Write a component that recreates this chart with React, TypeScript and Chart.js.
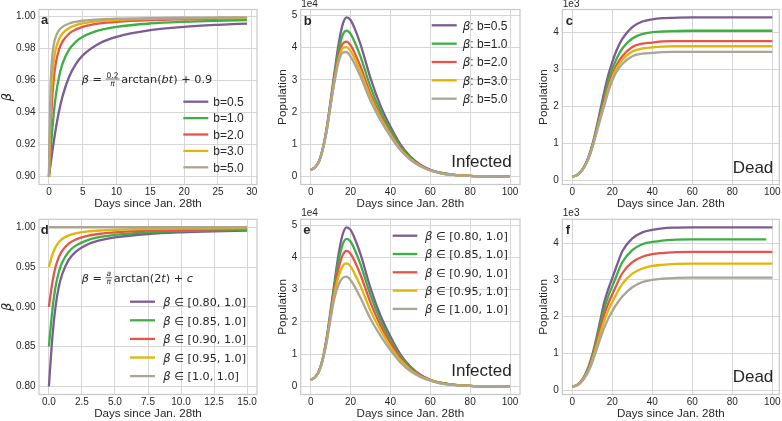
import React, { useEffect, useRef } from "react";
import { Chart, registerables } from "chart.js";

Chart.register(...registerables);

const SANS = '"Liberation Sans", Arial, Helvetica, sans-serif';
const MATH = '"DejaVu Sans", sans-serif';
const TEXT = "#262626";
const GRID = "#d6d6d6";
const SPINE = "#c8c8c8";
const COLORS = ["#7b5c93", "#3cb043", "#e8534a", "#e2b507", "#aaa597"];

// ---------------- Panel a : beta(t) for several b ----------------
const tA = [0, 0.1, 0.2, 0.3, 0.5, 0.75, 1, 1.5, 2, 3, 4, 5, 7.5, 10, 15, 20, 25, 29.3];
const labelsA = ["b=0.5", "b=1.0", "b=2.0", "b=3.0", "b=5.0"];
const betaA_b05 = [0.9, 0.90318, 0.90635, 0.90948, 0.9156, 0.92284, 0.92952, 0.94097, 0.95, 0.96257, 0.97048, 0.97578, 0.98341, 0.98743, 0.99156, 0.99366, 0.99492, 0.99569];
const betaA_b10 = [0.9, 0.90635, 0.91257, 0.91856, 0.92952, 0.94097, 0.95, 0.96257, 0.97048, 0.97952, 0.9844, 0.98743, 0.99156, 0.99366, 0.99576, 0.99682, 0.99746, 0.99784];
const betaA_b20 = [0.9, 0.91257, 0.92422, 0.9344, 0.95, 0.96257, 0.97048, 0.97952, 0.9844, 0.98949, 0.99208, 0.99366, 0.99576, 0.99682, 0.99788, 0.99841, 0.99873, 0.99892];
const betaA_b30 = [0.9, 0.91856, 0.9344, 0.94665, 0.96257, 0.97338, 0.97952, 0.98608, 0.98949, 0.99296, 0.99471, 0.99576, 0.99717, 0.99788, 0.99859, 0.99894, 0.99915, 0.99928];
const betaA_b50 = [0.9, 0.92952, 0.95, 0.96257, 0.97578, 0.98341, 0.98743, 0.99156, 0.99366, 0.99576, 0.99682, 0.99746, 0.9983, 0.99873, 0.99915, 0.99936, 0.99949, 0.99957];
const xTicksA = [0, 5, 10, 15, 20, 25, 30];
const yTicksA = [0.9, 0.92, 0.94, 0.96, 0.98, 1.0];

// ---------------- Panel b : infected (x1e4) ----------------
const tInf = [0, 2, 4, 6, 8, 10, 12, 14, 16, 18, 20, 22, 25, 30, 35, 40, 45, 50, 55, 60, 65, 70, 80, 90, 100];
const labelsB = ["β: b=0.5", "β: b=1.0", "β: b=2.0", "β: b=3.0", "β: b=5.0"];
const infB_b05 = [0.21, 0.28, 0.45, 0.85, 1.5, 2.35, 3.25, 4.1, 4.7, 4.93, 4.85, 4.6, 4.1, 3.05, 2.2, 1.55, 1.0, 0.62, 0.37, 0.21, 0.12, 0.07, 0.02, 0.005, 0.001];
const infB_b10 = [0.21, 0.28, 0.45, 0.84, 1.46, 2.29, 3.14, 3.89, 4.38, 4.52, 4.42, 4.18, 3.72, 2.78, 2.03, 1.44, 0.93, 0.58, 0.35, 0.2, 0.12, 0.07, 0.02, 0.005, 0.001];
const infB_b20 = [0.21, 0.28, 0.44, 0.83, 1.43, 2.25, 3.04, 3.72, 4.11, 4.18, 4.07, 3.84, 3.41, 2.56, 1.89, 1.34, 0.88, 0.55, 0.34, 0.2, 0.11, 0.06, 0.02, 0.005, 0.001];
const infB_b30 = [0.21, 0.28, 0.44, 0.83, 1.42, 2.22, 3.0, 3.63, 3.98, 4.01, 3.89, 3.67, 3.25, 2.46, 1.82, 1.3, 0.85, 0.54, 0.33, 0.19, 0.11, 0.06, 0.02, 0.005, 0.001];
const infB_b50 = [0.21, 0.28, 0.44, 0.82, 1.4, 2.2, 2.95, 3.55, 3.84, 3.86, 3.72, 3.5, 3.1, 2.35, 1.75, 1.25, 0.82, 0.52, 0.32, 0.19, 0.11, 0.06, 0.02, 0.005, 0.001];
const xTicksDays = [0, 20, 40, 60, 80, 100];
const yTicksInf = [0, 1, 2, 3, 4, 5];

// ---------------- Panel c : dead (x1e3) ----------------
const tDead = [0, 2, 4, 6, 8, 10, 12, 14, 16, 18, 20, 22, 25, 30, 35, 40, 45, 50, 60, 70, 80, 90, 100];
const deadC_b05 = [0.1, 0.13, 0.22, 0.38, 0.62, 0.96, 1.4, 1.9, 2.4, 2.85, 3.2, 3.5, 3.83, 4.15, 4.3, 4.36, 4.39, 4.4, 4.41, 4.41, 4.41, 4.41, 4.41];
const deadC_b10 = [0.1, 0.13, 0.22, 0.37, 0.6, 0.93, 1.35, 1.8, 2.25, 2.68, 3.01, 3.28, 3.57, 3.84, 3.96, 4.01, 4.03, 4.04, 4.05, 4.05, 4.05, 4.05, 4.05];
const deadC_b20 = [0.1, 0.13, 0.21, 0.37, 0.59, 0.91, 1.3, 1.73, 2.14, 2.54, 2.86, 3.11, 3.36, 3.61, 3.7, 3.73, 3.76, 3.77, 3.77, 3.77, 3.77, 3.77, 3.77];
const deadC_b30 = [0.1, 0.13, 0.21, 0.36, 0.58, 0.89, 1.28, 1.69, 2.08, 2.47, 2.78, 3.02, 3.26, 3.49, 3.57, 3.6, 3.62, 3.63, 3.63, 3.63, 3.63, 3.63, 3.63];
const deadC_b50 = [0.1, 0.13, 0.21, 0.36, 0.57, 0.88, 1.26, 1.65, 2.02, 2.4, 2.7, 2.93, 3.15, 3.36, 3.43, 3.45, 3.47, 3.48, 3.48, 3.48, 3.48, 3.48, 3.48];
const yTicksDead = [0, 1, 2, 3, 4];

// ---------------- Panel d : beta(t) for several ranges ----------------
const tD = [0, 0.05, 0.1, 0.2, 0.3, 0.5, 0.75, 1, 1.5, 2, 3, 4, 5, 7.5, 10, 12.5, 15];
const labelsD = ["β ∈ [0.80, 1.0]", "β ∈ [0.85, 1.0]", "β ∈ [0.90, 1.0]", "β ∈ [0.95, 1.0]", "β ∈ [1.0, 1.0]"];
const betaD_080 = [0.8, 0.81269, 0.82513, 0.84845, 0.86881, 0.9, 0.92513, 0.94097, 0.95903, 0.96881, 0.97897, 0.98417, 0.98731, 0.99152, 0.99364, 0.99491, 0.99576];
const betaD_085 = [0.85, 0.85952, 0.86885, 0.88634, 0.90161, 0.925, 0.94385, 0.95572, 0.96928, 0.97661, 0.98423, 0.98812, 0.99048, 0.99364, 0.99523, 0.99618, 0.99682];
const betaD_090 = [0.9, 0.90635, 0.91257, 0.92422, 0.93441, 0.95, 0.96257, 0.97048, 0.97952, 0.9844, 0.98949, 0.99208, 0.99366, 0.99576, 0.99682, 0.99746, 0.99788];
const betaD_095 = [0.95, 0.95317, 0.95628, 0.96211, 0.9672, 0.975, 0.98128, 0.98524, 0.98976, 0.9922, 0.99474, 0.99604, 0.99683, 0.99788, 0.99841, 0.99873, 0.99894];
const betaD_100 = [1, 1, 1, 1, 1, 1, 1, 1, 1, 1, 1, 1, 1, 1, 1, 1, 1];
const xTicksD = [0, 2.5, 5, 7.5, 10, 12.5, 15];
const yTicksD = [0.8, 0.85, 0.9, 0.95, 1.0];

// ---------------- Panel e : infected (x1e4) ----------------
const labelsE = ["β ∈ [0.80, 1.0]", "β ∈ [0.85, 1.0]", "β ∈ [0.90, 1.0]", "β ∈ [0.95, 1.0]", "β ∈ [1.00, 1.0]"];
const infE_080 = [0.21, 0.28, 0.45, 0.85, 1.5, 2.35, 3.25, 4.1, 4.7, 4.93, 4.85, 4.6, 4.1, 3.05, 2.2, 1.55, 1.0, 0.62, 0.37, 0.21, 0.12, 0.07, 0.02, 0.005, 0.001];
const infE_085 = [0.21, 0.28, 0.45, 0.84, 1.47, 2.29, 3.13, 3.88, 4.39, 4.57, 4.49, 4.25, 3.78, 2.83, 2.05, 1.45, 0.94, 0.59, 0.35, 0.2, 0.12, 0.07, 0.02, 0.005, 0.001];
const infE_090 = [0.21, 0.28, 0.45, 0.83, 1.43, 2.23, 3.01, 3.65, 4.06, 4.2, 4.11, 3.89, 3.46, 2.6, 1.9, 1.35, 0.88, 0.55, 0.34, 0.2, 0.11, 0.07, 0.02, 0.005, 0.001];
const infE_095 = [0.21, 0.28, 0.44, 0.82, 1.4, 2.17, 2.88, 3.41, 3.72, 3.81, 3.72, 3.5, 3.11, 2.35, 1.75, 1.24, 0.82, 0.52, 0.32, 0.19, 0.11, 0.06, 0.02, 0.005, 0.001];
const infE_100 = [0.21, 0.28, 0.44, 0.81, 1.36, 2.1, 2.75, 3.15, 3.36, 3.4, 3.3, 3.1, 2.75, 2.1, 1.58, 1.13, 0.75, 0.48, 0.3, 0.18, 0.1, 0.06, 0.02, 0.005, 0.001];

// ---------------- Panel f : dead (x1e3) ----------------
const tDeadShort = [0, 2, 4, 6, 8, 10, 12, 14, 16, 18, 20, 22, 25, 30, 35, 40, 45, 50, 60, 70, 80, 90, 97];
const deadF_080 = [0.1, 0.13, 0.22, 0.38, 0.62, 0.96, 1.4, 1.9, 2.4, 2.75, 3.05, 3.35, 3.78, 4.13, 4.29, 4.36, 4.4, 4.42, 4.43, 4.43, 4.43, 4.43, 4.43];
const deadF_085 = [0.1, 0.13, 0.21, 0.37, 0.59, 0.91, 1.32, 1.78, 2.23, 2.56, 2.83, 3.1, 3.48, 3.81, 3.97, 4.03, 4.07, 4.09, 4.1, 4.1, 4.1, 4.1, 4.1];
const deadF_090 = [0.1, 0.13, 0.21, 0.35, 0.56, 0.86, 1.24, 1.66, 2.06, 2.36, 2.61, 2.85, 3.18, 3.48, 3.63, 3.7, 3.73, 3.75, 3.76, 3.76, 3.76, 3.76, 3.76];
const deadF_095 = [0.1, 0.12, 0.2, 0.34, 0.53, 0.82, 1.17, 1.54, 1.89, 2.17, 2.4, 2.61, 2.89, 3.17, 3.31, 3.38, 3.41, 3.43, 3.44, 3.44, 3.44, 3.44, 3.44];
const deadF_100 = [0.1, 0.12, 0.19, 0.32, 0.5, 0.76, 1.08, 1.4, 1.7, 1.95, 2.15, 2.33, 2.55, 2.8, 2.94, 3.0, 3.03, 3.05, 3.06, 3.06, 3.06, 3.06, 3.06];

const X_TITLE = "Days since Jan. 28th";

// ---------------- layout ----------------
type Rect = { x: number; y: number; w: number; h: number };
type Plot = { l: number; t: number; r: number; b: number };
type Series = { label: string; xs: number[]; ys: number[] };
type Seg = { t: string; font: string } | { num: string; den: string; numFont: string; denFont: string };

type PanelCfg = {
  id: string;
  canvas: Rect;
  plot: Plot;
  series: Series[];
  xMin: number; xMax: number; xTicks: number[]; xFmt: (v: number) => string;
  yMin: number; yMax: number; yTicks: number[]; yFmt: (v: number) => string;
  yTitle: string; yTitleFont: any; yTitlePad: number;
  letter: string; letterDx: number; letterDy: number;
  offsetText?: string;
  big?: { text: string; dr: number; db: number };
  formula?: { x: number; y: number; segs: Seg[] };
  legend?: { x0: number; len: number; gap: number; y0: number; rowH: number; font: string; betaSize: number };
};

const TOP = { t: 9.5, b: 184.5, cy: 0, ch: 211 };
const BOT = { t: 219.3, b: 394.5, cy: 204, ch: 217 };
const COLA = { l: 39, r: 257, cx: 0, cw: 262 };
const COLB = { l: 300.7, r: 520, cx: 262, cw: 262 };
const COLC = { l: 562.3, r: 779.3, cx: 524, cw: 258 };

const mk = (labels: string[], xs: number[] | number[][], ys: number[][]): Series[] =>
  ys.map((y, i) => ({ label: labels[i] || "", xs: Array.isArray(xs[0]) ? (xs as number[][])[i] : (xs as number[]), ys: y }));

const fmt0 = (v: number) => String(Math.round(v));
const fmt1 = (v: number) => v.toFixed(1);
const fmt2 = (v: number) => v.toFixed(2);

const MF = (s: number, it = false) => `${it ? "italic " : ""}${s}px ${MATH}`;

const betaTitleFont = { family: MATH, size: 13, style: "italic" };
const popTitleFont = { family: SANS, size: 11.8 };

const panels: PanelCfg[] = [
  {
    id: "a",
    canvas: { x: COLA.cx, y: TOP.cy, w: COLA.cw, h: TOP.ch },
    plot: { l: COLA.l, r: COLA.r, t: TOP.t, b: TOP.b },
    series: mk(labelsA, tA, [betaA_b05, betaA_b10, betaA_b20, betaA_b30, betaA_b50]),
    xMin: -1.47, xMax: 30.77, xTicks: xTicksA, xFmt: fmt0,
    yMin: 0.895, yMax: 1.0045, yTicks: yTicksA, yFmt: fmt2,
    yTitle: "β", yTitleFont: betaTitleFont, yTitlePad: 0,
    letter: "a", letterDx: 2, letterDy: 14,
    formula: {
      x: 42.7, y: 73.5,
      segs: [
        { t: "β", font: MF(11.3, true) }, { t: " = ", font: MF(11.3) },
        { num: "0.2", den: "π", numFont: MF(7.6), denFont: MF(7.6, true) },
        { t: "arctan(", font: MF(11.3) }, { t: "bt", font: MF(11.3, true) }, { t: ") + 0.9", font: MF(11.3) },
      ],
    },
    legend: { x0: 144.3, len: 25, gap: 5, y0: 92.2, rowH: 16.4, font: `12px ${SANS}`, betaSize: 12 },
  },
  {
    id: "b",
    canvas: { x: COLB.cx, y: TOP.cy, w: COLB.cw, h: TOP.ch },
    plot: { l: COLB.l, r: COLB.r, t: TOP.t, b: TOP.b },
    series: mk(labelsB, tInf, [infB_b05, infB_b10, infB_b20, infB_b30, infB_b50]),
    xMin: -5, xMax: 105, xTicks: xTicksDays, xFmt: fmt0,
    yMin: -0.245, yMax: 5.177, yTicks: yTicksInf, yFmt: fmt0,
    yTitle: "Population", yTitleFont: popTitleFont, yTitlePad: 13.6,
    letter: "b", letterDx: 3, letterDy: 15.5,
    offsetText: "1e4",
    big: { text: "Infected", dr: 8.3, db: 17.8 },
    legend: { x0: 131, len: 25, gap: 6, y0: 15.8, rowH: 18.35, font: `12px ${SANS}`, betaSize: 12 },
  },
  {
    id: "c",
    canvas: { x: COLC.cx, y: TOP.cy, w: COLC.cw, h: TOP.ch },
    plot: { l: COLC.l, r: COLC.r, t: TOP.t, b: TOP.b },
    series: mk([], tDead, [deadC_b05, deadC_b10, deadC_b20, deadC_b30, deadC_b50]),
    xMin: -5, xMax: 103.5, xTicks: xTicksDays, xFmt: fmt0,
    yMin: -0.116, yMax: 4.626, yTicks: yTicksDead, yFmt: fmt0,
    yTitle: "Population", yTitleFont: popTitleFont, yTitlePad: 12.9,
    letter: "c", letterDx: 3.4, letterDy: 15.5,
    offsetText: "1e3",
    big: { text: "Dead", dr: 6, db: 11.2 },
  },
  {
    id: "d",
    canvas: { x: COLA.cx, y: BOT.cy, w: COLA.cw, h: BOT.ch },
    plot: { l: COLA.l, r: COLA.r, t: BOT.t, b: BOT.b },
    series: mk(labelsD, tD, [betaD_080, betaD_085, betaD_090, betaD_095, betaD_100]),
    xMin: -0.75, xMax: 15.75, xTicks: xTicksD, xFmt: fmt1,
    yMin: 0.79, yMax: 1.01, yTicks: yTicksD, yFmt: fmt2,
    yTitle: "β", yTitleFont: betaTitleFont, yTitlePad: 0,
    letter: "d", letterDx: 1.7, letterDy: 15,
    formula: {
      x: 42.7, y: 62.4,
      segs: [
        { t: "β", font: MF(11.3, true) }, { t: " = ", font: MF(11.3) },
        { num: "a", den: "π", numFont: MF(7.6, true), denFont: MF(7.6, true) },
        { t: "arctan(2", font: MF(11.3) }, { t: "t", font: MF(11.3, true) }, { t: ") + ", font: MF(11.3) },
        { t: "c", font: MF(11.3, true) },
      ],
    },
    legend: { x0: 91, len: 25, gap: 8.3, y0: 82.4, rowH: 18.6, font: MF(11.2), betaSize: 11.6 },
  },
  {
    id: "e",
    canvas: { x: COLB.cx, y: BOT.cy, w: COLB.cw, h: BOT.ch },
    plot: { l: COLB.l, r: COLB.r, t: BOT.t, b: BOT.b },
    series: mk(labelsE, tInf, [infE_080, infE_085, infE_090, infE_095, infE_100]),
    xMin: -5, xMax: 105, xTicks: xTicksDays, xFmt: fmt0,
    yMin: -0.245, yMax: 5.177, yTicks: yTicksInf, yFmt: fmt0,
    yTitle: "Population", yTitleFont: popTitleFont, yTitlePad: 13.6,
    letter: "e", letterDx: 2.6, letterDy: 15,
    offsetText: "1e4",
    big: { text: "Infected", dr: 8.3, db: 18.8 },
    legend: { x0: 92, len: 24.6, gap: 7.7, y0: 16.4, rowH: 18.3, font: MF(11.2), betaSize: 11.6 },
  },
  {
    id: "f",
    canvas: { x: COLC.cx, y: BOT.cy, w: COLC.cw, h: BOT.ch },
    plot: { l: COLC.l, r: COLC.r, t: BOT.t, b: BOT.b },
    series: mk([], [tDead, tDeadShort, tDead, tDead, tDead], [deadF_080, deadF_085, deadF_090, deadF_095, deadF_100]),
    xMin: -5, xMax: 103.5, xTicks: xTicksDays, xFmt: fmt0,
    yMin: -0.117, yMax: 4.647, yTicks: yTicksDead, yFmt: fmt0,
    yTitle: "Population", yTitleFont: popTitleFont, yTitlePad: 12.9,
    letter: "f", letterDx: 3.4, letterDy: 15,
    offsetText: "1e3",
    big: { text: "Dead", dr: 6, db: 12.8 },
  },
];

function drawSegs(ctx: CanvasRenderingContext2D, x: number, y: number, segs: Seg[]) {
  let cx = x;
  for (const s of segs) {
    if ("t" in s) {
      ctx.font = s.font;
      ctx.fillText(s.t, cx, y);
      cx += ctx.measureText(s.t).width;
    } else {
      ctx.font = s.numFont;
      const wn = ctx.measureText(s.num).width;
      ctx.font = s.denFont;
      const wd = ctx.measureText(s.den).width;
      const w = Math.max(wn, wd) + 2;
      const axis = y - 4;
      ctx.font = s.numFont;
      ctx.fillText(s.num, cx + (w - wn) / 2, axis - 1.5);
      ctx.font = s.denFont;
      ctx.fillText(s.den, cx + (w - wd) / 2, axis + 6.6);
      ctx.beginPath();
      ctx.moveTo(cx, axis);
      ctx.lineTo(cx + w, axis);
      ctx.lineWidth = 0.7;
      ctx.strokeStyle = TEXT;
      ctx.stroke();
      cx += w + 1.5;
    }
  }
}

function buildConfig(cfg: PanelCfg): any {
  const { canvas, plot } = cfg;
  const n = cfg.series.length;
  const datasets = cfg.series.map((s, i) => ({
    label: s.label,
    data: s.xs.map((x, j) => ({ x, y: s.ys[j] })),
    borderColor: COLORS[i],
    backgroundColor: COLORS[i],
    borderWidth: 2.3,
    pointRadius: 0,
    fill: false,
    cubicInterpolationMode: "monotone",
    order: n - 1 - i,
  }));

  const framePlugin = {
    id: "frame" + cfg.id,
    beforeDatasetsDraw(chart: any) {
      const { ctx, chartArea: ca } = chart;
      ctx.save();
      ctx.strokeStyle = SPINE;
      ctx.lineWidth = 1.2;
      ctx.strokeRect(ca.left, ca.top, ca.right - ca.left, ca.bottom - ca.top);
      ctx.restore();
    },
  };

  const annotPlugin = {
    id: "annot" + cfg.id,
    afterDraw(chart: any) {
      const { ctx, chartArea: ca } = chart;
      ctx.save();
      ctx.fillStyle = TEXT;
      ctx.textAlign = "left";
      ctx.textBaseline = "alphabetic";
      ctx.font = `bold 13px ${SANS}`;
      ctx.fillText(cfg.letter, ca.left + cfg.letterDx, ca.top + cfg.letterDy);
      if (cfg.offsetText) {
        ctx.font = `10px ${SANS}`;
        ctx.fillText(cfg.offsetText, ca.left + 0.5, ca.top - 3);
      }
      if (cfg.big) {
        ctx.font = `17px ${SANS}`;
        ctx.textAlign = "right";
        ctx.fillText(cfg.big.text, ca.right - cfg.big.dr, ca.bottom - cfg.big.db);
        ctx.textAlign = "left";
      }
      if (cfg.formula) {
        drawSegs(ctx, ca.left + cfg.formula.x, ca.top + cfg.formula.y, cfg.formula.segs);
      }
      if (cfg.legend) {
        const L = cfg.legend;
        chart.data.datasets.forEach((ds: any, i: number) => {
          const y = ca.top + L.y0 + i * L.rowH;
          ctx.beginPath();
          ctx.moveTo(ca.left + L.x0, y);
          ctx.lineTo(ca.left + L.x0 + L.len, y);
          ctx.strokeStyle = ds.borderColor;
          ctx.lineWidth = 2.3;
          ctx.stroke();
          let tx = ca.left + L.x0 + L.len + L.gap;
          const base = y + 4.3;
          let label: string = ds.label;
          if (label.startsWith("β")) {
            ctx.font = MF(L.betaSize, true);
            ctx.fillText("β", tx, base);
            tx += ctx.measureText("β").width;
            label = label.slice(1);
          }
          ctx.font = L.font;
          ctx.fillText(label, tx, base);
        });
      }
      ctx.restore();
    },
  };

  const tickFont = { family: SANS, size: 10 };

  return {
    type: "line",
    data: { datasets },
    plugins: [framePlugin, annotPlugin],
    options: {
      responsive: false,
      maintainAspectRatio: false,
      animation: false,
      devicePixelRatio: 1,
      events: [],
      layout: {
        padding: { left: 0, top: plot.t - canvas.y, right: canvas.x + canvas.w - plot.r, bottom: 0 },
      },
      plugins: { legend: { display: false }, tooltip: { enabled: false } },
      scales: {
        x: {
          type: "linear",
          min: cfg.xMin,
          max: cfg.xMax,
          afterBuildTicks: (s: any) => {
            s.ticks = cfg.xTicks.map((v) => ({ value: v }));
          },
          afterFit: (s: any) => {
            s.height = canvas.y + canvas.h - plot.b;
            s.paddingLeft = 0;
            s.paddingRight = 0;
          },
          grid: { color: GRID, lineWidth: 1, drawTicks: false },
          border: { display: false },
          ticks: {
            padding: 1.8,
            font: tickFont,
            color: TEXT,
            autoSkip: false,
            maxRotation: 0,
            callback: (v: number) => cfg.xFmt(v),
          },
          title: {
            display: true,
            text: X_TITLE,
            font: { family: SANS, size: 11.6 },
            color: TEXT,
            padding: { top: 0, bottom: 0 },
          },
        },
        y: {
          type: "linear",
          min: cfg.yMin,
          max: cfg.yMax,
          afterBuildTicks: (s: any) => {
            s.ticks = cfg.yTicks.map((v) => ({ value: v }));
          },
          afterFit: (s: any) => {
            s.width = plot.l - canvas.x;
            s.paddingTop = 0;
            s.paddingBottom = 0;
          },
          grid: { color: GRID, lineWidth: 1, drawTicks: false },
          border: { display: false },
          ticks: {
            padding: 3.5,
            font: tickFont,
            color: TEXT,
            autoSkip: false,
            callback: (v: number) => cfg.yFmt(v),
          },
          title: {
            display: true,
            text: cfg.yTitle,
            font: cfg.yTitleFont,
            color: TEXT,
            padding: { top: cfg.yTitlePad, bottom: 0 },
          },
        },
      },
    },
  };
}

function Panel({ cfg }: { cfg: PanelCfg }) {
  const ref = useRef<HTMLCanvasElement>(null);
  useEffect(() => {
    const chart = new Chart(ref.current as HTMLCanvasElement, buildConfig(cfg));
    return () => chart.destroy();
  }, [cfg]);
  const { x, y, w, h } = cfg.canvas;
  return (
    <canvas
      ref={ref}
      width={w}
      height={h}
      style={{ position: "absolute", left: x, top: y, width: w, height: h, display: "block" }}
    />
  );
}

export default function App() {
  return (
    <div
      style={{
        position: "fixed",
        left: 0,
        top: 0,
        width: 782,
        height: 421,
        overflow: "hidden",
        background: "#ffffff",
      }}
    >
      {panels.map((p) => (
        <Panel key={p.id} cfg={p} />
      ))}
    </div>
  );
}
